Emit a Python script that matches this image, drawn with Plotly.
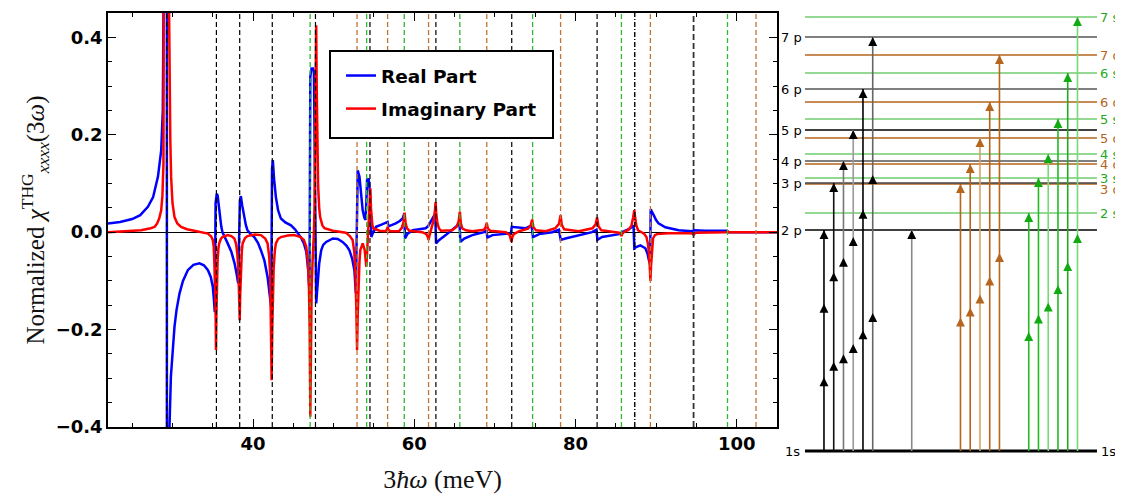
import plotly.graph_objects as go

# ---------------- data: main spectrum ----------------
re_pts = [
    (22.0, 0.018), (23.5, 0.021), (25.0, 0.027), (26.0, 0.035), (26.95, 0.052), (27.6, 0.072),
    (28.2, 0.114), (28.6, 0.168), (28.8, 0.25), (28.93, 0.353), (29.05, 0.50), (29.2, 1.2),
    (29.3, 4.0), (29.31, -4.0), (29.45, -1.0), (29.63, -0.40), (29.8, -0.297), (30.0, -0.24),
    (30.25, -0.194), (30.5, -0.16), (30.87, -0.126), (31.3, -0.10), (31.9, -0.078), (32.6, -0.067),
    (33.35, -0.064), (33.9, -0.068), (34.4, -0.078), (34.75, -0.092), (35.0, -0.112), (35.15, -0.14),
    (35.25, -0.164), (35.35, 0.06), (35.5, 0.079), (35.6, 0.075), (35.75, 0.05), (35.9, 0.031),
    (36.05, 0.012), (36.2, 0.0), (36.5, -0.012), (36.85, -0.023), (37.3, -0.04), (37.7, -0.064),
    (37.95, -0.085), (38.15, -0.105), (38.36, 0.065), (38.48, 0.074), (38.65, 0.055), (38.9, 0.031),
    (39.1, 0.015), (39.3, 0.004), (39.7, -0.004), (40.15, -0.010), (40.6, -0.022), (40.97, -0.037),
    (41.4, -0.058), (41.8, -0.092), (42.05, -0.125), (42.25, -0.155), (42.35, 0.13), (42.45, 0.148),
    (42.6, 0.11), (42.83, 0.072), (43.1, 0.045), (43.45, 0.028), (44.0, 0.020), (44.7, 0.014),
    (45.2, 0.006), (45.5, 0.0), (45.9, -0.010), (46.3, -0.023), (46.6, -0.040), (46.85, -0.08),
    (47.0, -0.125), (47.1, 0.319), (47.25, 0.336), (47.45, 0.336), (47.55, 0.33), (47.83, -0.146),
    (47.95, -0.115), (48.05, -0.092), (48.2, -0.065), (48.45, -0.037), (48.7, -0.026), (49.07, -0.020),
    (49.9, -0.013), (50.5, -0.014), (51.1, -0.020), (51.6, -0.028), (51.95, -0.037), (52.3, -0.055),
    (52.57, -0.078), (52.75, -0.125), (52.98, 0.127), (53.2, 0.114), (53.4, 0.075), (53.6, 0.045),
    (53.8, 0.030), (53.95, 0.025), (54.05, 0.06), (54.14, 0.107), (54.34, 0.110), (54.5, 0.08),
    (54.6, 0.03), (54.67, -0.010), (54.8, -0.004), (54.92, 0.0), (55.25, 0.011), (56.0, 0.016),
    (56.5, 0.019), (56.69, 0.021), (56.8, 0.012), (57.2, 0.014), (57.7, 0.018), (58.2, 0.023),
    (58.55, 0.028), (58.75, 0.038), (58.85, -0.013), (59.17, -0.003), (59.8, 0.004), (60.6, 0.006),
    (61.4, 0.008), (61.7, 0.012), (62.05, 0.022), (62.4, 0.033), (62.6, 0.038), (62.7, -0.023),
    (63.1, -0.016), (63.9, -0.006), (64.7, 0.004), (65.35, 0.014), (65.6, 0.021), (65.72, -0.020),
    (66.2, -0.013), (67.2, -0.006), (68.65, 0.0), (68.95, 0.004), (69.07, -0.011), (69.7, -0.006),
    (71.35, -0.003), (71.98, -0.003), (72.09, 0.011), (72.58, 0.010), (73.8, 0.008), (74.55, 0.014),
    (74.72, -0.010), (75.5, -0.004), (77.1, 0.0), (77.95, 0.005), (78.17, -0.016), (78.75, -0.013),
    (80.4, -0.006), (82.05, 0.0), (82.6, 0.005), (82.72, -0.016), (83.3, -0.010), (84.1, -0.008),
    (85.4, -0.004), (85.8, 0.0), (86.8, 0.008), (87.2, 0.014), (87.3, -0.033), (87.6, -0.030),
    (88.05, -0.027), (88.67, -0.033), (88.95, -0.045), (89.1, -0.057), (89.25, -0.065), (89.33, 0.047),
    (89.5, 0.040), (89.7, 0.035), (90.0, 0.025), (90.3, 0.018), (91.15, 0.010), (92.8, 0.004),
    (94.45, 0.002), (94.7, 0.004), (96.1, 0.003), (98.77, 0.003), (99.0, 0.0), (105.0, 0.0)]

im_pts = [
    (22.0, 0.0), (24.0, 0.002), (26.1, 0.004), (27.3, 0.008), (27.8, 0.011), (28.1, 0.018),
    (28.35, 0.028), (28.6, 0.045), (28.75, 0.075), (28.88, 0.14), (28.97, 0.25), (29.05, 0.45),
    (29.3, 4.0), (29.58, 0.45), (29.65, 0.30), (29.73, 0.19), (29.83, 0.114), (30.0, 0.06),
    (30.25, 0.031), (30.6, 0.018), (31.07, 0.011), (31.8, 0.006), (32.7, 0.003), (33.6, 0.0),
    (34.4, -0.003), (34.8, -0.009), (35.0, -0.016), (35.12, -0.03), (35.22, -0.06), (35.3, -0.11),
    (35.36, -0.18), (35.4, -0.242), (35.45, -0.17), (35.52, -0.10), (35.6, -0.057), (35.7, -0.033),
    (35.8, -0.023), (36.0, -0.014), (36.2, -0.010), (36.85, -0.006), (37.3, -0.008), (37.68, -0.013),
    (37.9, -0.025), (38.05, -0.045), (38.18, -0.08), (38.28, -0.14), (38.34, -0.181), (38.4, -0.13),
    (38.5, -0.078), (38.6, -0.04), (38.7, -0.023), (39.0, -0.012), (39.3, -0.008), (40.2, -0.005),
    (40.97, -0.006), (41.5, -0.013), (41.8, -0.023), (42.0, -0.05), (42.13, -0.092), (42.22, -0.17),
    (42.3, -0.304), (42.38, -0.20), (42.46, -0.12), (42.55, -0.075), (42.7, -0.038), (42.83, -0.023),
    (43.1, -0.014), (43.45, -0.010), (44.3, -0.007), (45.1, -0.006), (45.9, -0.010), (46.3, -0.016),
    (46.6, -0.030), (46.8, -0.06), (46.93, -0.11), (47.02, -0.20), (47.1, -0.379), (47.18, -0.22),
    (47.26, -0.12), (47.38, -0.06), (47.5, -0.023), (47.55, 0.0), (47.62, 0.05), (47.7, 0.15),
    (47.76, 0.27), (47.83, 0.425), (47.9, 0.29), (47.97, 0.17), (48.07, 0.095), (48.2, 0.05),
    (48.32, 0.031), (48.6, 0.014), (48.86, 0.008), (49.9, 0.003), (51.5, -0.001), (52.0, -0.008),
    (52.35, -0.016), (52.55, -0.04), (52.7, -0.085), (52.8, -0.15), (52.9, -0.242), (52.98, -0.17),
    (53.1, -0.10), (53.2, -0.06), (53.3, -0.037), (53.6, -0.023), (53.85, -0.037), (53.97, -0.055),
    (54.05, -0.071), (54.12, -0.05), (54.2, -0.023), (54.3, 0.005), (54.4, 0.04), (54.48, 0.07),
    (54.55, 0.090), (54.62, 0.05), (54.7, 0.025), (54.8, 0.014), (54.92, 0.008), (55.66, 0.003),
    (56.4, 0.002), (56.6, 0.005), (56.69, 0.011), (56.8, 0.005), (57.0, 0.002), (58.1, 0.002),
    (58.45, 0.009), (58.65, 0.02), (58.8, 0.040), (58.92, 0.018), (59.1, 0.008), (59.4, 0.003),
    (61.0, 0.0), (61.5, -0.004), (61.68, -0.010), (61.77, -0.016), (61.87, -0.008), (62.0, 0.0),
    (62.25, 0.012), (62.45, 0.028), (62.58, 0.048), (62.64, 0.062), (62.72, 0.04), (62.85, 0.02),
    (63.05, 0.008), (63.3, 0.003), (64.7, 0.004), (65.25, 0.011), (65.5, 0.022), (65.65, 0.042),
    (65.78, 0.018), (65.95, 0.008), (66.4, 0.004), (67.2, 0.002), (68.65, 0.005), (68.85, 0.010),
    (68.99, 0.019), (69.12, 0.008), (69.4, 0.003), (71.35, 0.0), (71.84, -0.006), (71.97, -0.012),
    (72.06, -0.020), (72.16, -0.010), (72.35, -0.004), (73.0, 0.002), (74.1, 0.007), (74.45, 0.014),
    (74.62, 0.026), (74.78, 0.010), (75.1, 0.004), (76.3, 0.002), (77.5, 0.008), (77.95, 0.017),
    (78.15, 0.035), (78.3, 0.015), (78.6, 0.006), (80.4, 0.002), (82.1, 0.008), (82.5, 0.016),
    (82.68, 0.030), (82.85, 0.012), (83.2, 0.004), (84.1, 0.002), (85.4, -0.001), (85.6, -0.004),
    (85.7, -0.008), (85.82, -0.003), (86.0, 0.0), (86.6, 0.005), (86.95, 0.014), (87.15, 0.03),
    (87.3, 0.045), (87.4, 0.03), (87.55, 0.014), (87.76, 0.004), (88.2, -0.001), (88.5, -0.003),
    (88.8, -0.010), (89.0, -0.025), (89.15, -0.05), (89.25, -0.08), (89.3, -0.100), (89.37, -0.07),
    (89.47, -0.035), (89.62, -0.013), (89.85, -0.006), (90.1, -0.004), (91.5, -0.002), (94.4, -0.002),
    (94.58, -0.004), (94.65, -0.006), (94.75, -0.003), (95.0, -0.001), (98.7, 0.0), (98.86, 0.002),
    (99.0, 0.0), (105.0, 0.0)]

re_x = [p[0] for p in re_pts]
re_y = [p[1] for p in re_pts]
im_x = [p[0] for p in im_pts]
im_y = [p[1] for p in im_pts]

# resonance markers (meV)
p_res = [29.27, 35.45, 38.34, 42.38, 47.74, 54.5, 62.68, 72.09, 82.68]
p_res_extra = [94.65]
dashdot_res = [87.35]
s_res = [47.08, 54.09, 58.76, 65.65, 74.68, 85.7, 98.86]
d_res = [52.9, 56.69, 61.77, 68.99, 78.15, 89.29, 102.4]

# ---------------- data: level scheme (schematic energies) ----------------
p_names = ["2 p", "3 p", "4 p", "5 p", "6 p", "7 p"]
p_energy = [221, 268, 290, 321, 362, 414]
d_names = ["3 d", "4 d", "5 d", "6 d", "7 d"]
d_energy = [267, 287, 313, 349, 396]
s_names = ["2 s", "3 s", "4 s", "5 s", "6 s", "7 s"]
s_energy = [238, 273, 297, 332, 378, 434]
p_photons = 3
sd_photons = 2

# ---------------- geometry (page has an 8px body margin) ----------------
OFF = 8
W, H = 1123 - OFF, 495 - OFF
def fx(px):
    return (px - OFF) / W
def fy(py):
    return 1 - (py - OFF) / H

BLUE, RED = "#0000ff", "#ff0000"
GREEN, BROWN = "#22aa22", "#b5651d"
GREEN_LVL = "#6fcc6f"
GREEN_DASH, BROWN_DASH = "#2db82d", "#c07432"
p_lvl_cols = ["#000000", "#444444", "#555555", "#000000", "#555555", "#555555"]
p_arr_cols = ["#000000", "#111111", "#777777", "#9a9a9a", "#000000", "#666666"]
d_arr_cols = [BROWN, BROWN, "#d9a066", BROWN, BROWN]
s_arr_cols = ["#22bb22", "#22bb22", "#77d977", "#22bb22", "#22aa22", "#77d977"]

fig = go.Figure()

fig.add_trace(go.Scatter(x=re_x, y=re_y, mode="lines", name="Real Part", legendgroup="re",
                         line=dict(color=BLUE, width=2.5)))
fig.add_trace(go.Scatter(x=im_x, y=im_y, mode="lines", name="Imaginary Part",
                         legendgroup="im", line=dict(color=RED, width=2.5)))

shapes = []
def vline(xv, color, width, dash):
    shapes.append(dict(type="line", xref="x", yref="y domain", x0=xv, x1=xv, y0=0, y1=1,
                       line=dict(color=color, width=width, dash=dash), layer="above"))
for xv in p_res:
    vline(xv, "black", 1.2, "5px,3px")
for xv in p_res_extra:
    vline(xv, "#333333", 1.8, "6px,3px")
for xv in dashdot_res:
    vline(xv, "black", 1.4, "5px,2px,1px,2px")
for xv in s_res:
    vline(xv, GREEN_DASH, 1.3, "5px,3px")
for xv in d_res:
    vline(xv, BROWN_DASH, 1.3, "5px,3px")
# legend frame
shapes.append(dict(type="rect", xref="paper", yref="paper", x0=fx(330), x1=fx(553),
                   y0=fy(138), y1=fy(51), fillcolor="white",
                   line=dict(color="black", width=2), layer="above"))

# ---------------- level scheme ----------------
X0, X1 = -1.95, 28.0
annotations = []

def level(e, color, width):
    fig.add_trace(go.Scatter(x=[X0, X1], y=[e, e], mode="lines", xaxis="x2", yaxis="y2",
                             showlegend=False, hoverinfo="skip", line=dict(color=color, width=width)))

for e in s_energy:
    level(e, GREEN_LVL, 1.5)
for e in d_energy:
    level(e, BROWN, 1.5)
for e, c in zip(p_energy, p_lvl_cols):
    level(e, c, 1.5)
level(0, "black", 3)

def label(x, y, txt, color, anchor):
    annotations.append(dict(x=x, y=y, xref="x2", yref="y2", text=txt, showarrow=False,
                            xanchor=anchor, yanchor="middle",
                            font=dict(family="DejaVu Sans", size=13, color=color)))

for n, e in zip(p_names, p_energy):
    label(-2.1, e, n, "black", "right")
for n, e in zip(s_names, s_energy):
    label(28.1, e, n, GREEN, "left")
for n, e in zip(d_names, d_energy):
    label(28.1, e - (5 if n == "3 d" else 0), n, BROWN, "left")
label(-2.3, 0, "1s", "black", "right")
label(28.25, 0, "1s", "black", "left")

def arrow(col, e, nphot, line_col, head_col):
    fig.add_trace(go.Scatter(x=[col, col], y=[0, e], mode="lines", xaxis="x2", yaxis="y2",
                             showlegend=False, hoverinfo="skip", line=dict(color=line_col, width=1.6)))
    for k in range(1, nphot + 1):
        tip = e * k / nphot
        annotations.append(dict(x=col, y=tip, ax=col, ay=tip - 5, xref="x2", yref="y2",
                                axref="x2", ayref="y2", text="", showarrow=True,
                                arrowhead=2, arrowsize=1.5, arrowwidth=1.2,
                                arrowcolor=head_col, standoff=0))

for i, e in enumerate(p_energy):
    arrow(i, e, p_photons, p_arr_cols[i], "black")
arrow(9, p_energy[0], 1, "#888888", "black")
for i, e in enumerate(d_energy):
    arrow(14 + i, e, sd_photons, d_arr_cols[i], BROWN)
for i, e in enumerate(s_energy):
    arrow(21 + i, e, sd_photons, s_arr_cols[i], "#11aa11")

# ---------------- layout ----------------
tickfont = dict(family="DejaVu Sans", size=18, color="black", weight="bold")

fig.update_layout(
    width=W, height=H, margin=dict(l=0, r=0, t=0, b=0),
    plot_bgcolor="white", paper_bgcolor="white",
    shapes=shapes, annotations=annotations,
    showlegend=True,
    legend=dict(x=fx(341), y=fy(57), xanchor="left", yanchor="top",
                bgcolor="rgba(0,0,0,0)", borderwidth=0,
                font=dict(family="DejaVu Sans", size=18.5, color="black", weight="bold"),
                traceorder="grouped", tracegroupgap=6, itemwidth=30),
    xaxis=dict(domain=[fx(108), fx(777)], range=[22, 105], autorange=False,
               showline=True, linecolor="black", linewidth=1.5, mirror="ticks",
               ticks="inside", ticklen=8, tickwidth=1.2, tickcolor="black",
               tick0=0, dtick=20, tickfont=tickfont, showgrid=False, zeroline=False,
               minor=dict(dtick=5, tick0=0, ticks="inside", ticklen=4, tickcolor="black", tickwidth=1),
               title=dict(text="3<i>ħω</i> (meV)",
                          font=dict(family="Liberation Serif", size=26, color="#111111"), standoff=16),
               automargin=False),
    yaxis=dict(domain=[fy(427), fy(13)], range=[-0.4, 0.45], autorange=False,
               showline=True, linecolor="black", linewidth=1.5, mirror="ticks",
               ticks="inside", ticklen=8, tickwidth=1.2, tickcolor="black",
               tick0=0, dtick=0.2, tickformat=".1f", tickfont=tickfont, showgrid=False,
               zeroline=True, zerolinecolor="black", zerolinewidth=1.2,
               minor=dict(dtick=0.05, tick0=0, ticks="inside", ticklen=4, tickcolor="black", tickwidth=1),
               title=dict(text="Normalized <i>χ</i><sup>THG</sup><sub><i>xxxx</i></sub>(3<i>ω</i>)",
                          font=dict(family="Liberation Serif", size=25, color="#111111"), standoff=4),
               automargin=False),
    xaxis2=dict(domain=[fx(780), 1.0], range=[-4.51, 30.67], visible=False, anchor="y2"),
    yaxis2=dict(domain=[0, 1], range=[-44, 451 - OFF], visible=False, anchor="x2"),
)

fig.write_html("out.html")
